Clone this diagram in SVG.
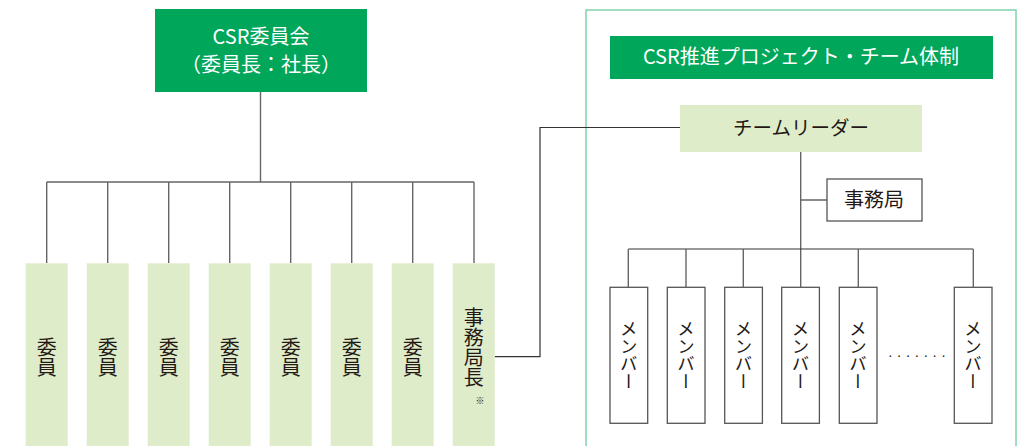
<svg xmlns="http://www.w3.org/2000/svg" width="1018" height="446" viewBox="0 0 1018 446">
<style>
text{font-family:"Noto Sans CJK JP","Noto Sans",sans-serif;fill:#231815}
.w{fill:#fff}
.g{fill:#00a65a}
.lg{fill:#deecc9}
.box{fill:#fff;stroke:#555;stroke-width:1.3}
.ln{fill:none;stroke:#666;stroke-width:1.4}
.ln2{fill:none;stroke:#333;stroke-width:1.2}
.v{writing-mode:vertical-rl;text-anchor:middle}
</style>
<rect x="0" y="0" width="1018" height="446" fill="#fff"/>
<g id="frame"><rect x="586" y="10" width="430" height="450" fill="none" stroke="#7fd3ab" stroke-width="1.5"/></g>
<g id="connectors">
<path class="ln" d="M260.5 92V182M46.7 182H474M46.7 182V263M107.7 182V263M168.7 182V263M229.7 182V263M290.7 182V263M351.7 182V263M412.7 182V263M474 182V263"/>
<path class="ln2" d="M494.7 356.7H540V127.5H680"/>
<path class="ln" d="M800.7 152V287M800.7 200H827"/>
<path class="ln2" d="M628.3 249H973.3"/>
<path class="ln" d="M628.3 249V287M686 249V287M743.3 249V287M858.3 249V287M973.3 249V287"/>
</g>
<g id="committee">
<rect class="g" x="155" y="9" width="212" height="83"/>
<text class="w" x="261" y="44" font-size="20" text-anchor="middle">CSR委員会</text>
<text class="w" x="261" y="72" font-size="20" text-anchor="middle">（委員長：社長）</text>
</g>
<g id="m1"><rect class="lg" x="25.7" y="263.3" width="42" height="190"/><text class="v" x="46.7" y="357" font-size="20">委員</text></g>
<g id="m2"><rect class="lg" x="86.7" y="263.3" width="42" height="190"/><text class="v" x="107.7" y="357" font-size="20">委員</text></g>
<g id="m3"><rect class="lg" x="147.7" y="263.3" width="42" height="190"/><text class="v" x="168.7" y="357" font-size="20">委員</text></g>
<g id="m4"><rect class="lg" x="208.7" y="263.3" width="42" height="190"/><text class="v" x="229.7" y="357" font-size="20">委員</text></g>
<g id="m5"><rect class="lg" x="269.7" y="263.3" width="42" height="190"/><text class="v" x="290.7" y="357" font-size="20">委員</text></g>
<g id="m6"><rect class="lg" x="330.7" y="263.3" width="42" height="190"/><text class="v" x="351.7" y="357" font-size="20">委員</text></g>
<g id="m7"><rect class="lg" x="391.7" y="263.3" width="42" height="190"/><text class="v" x="412.7" y="357" font-size="20">委員</text></g>
<g id="secgen"><rect class="lg" x="452.7" y="263.3" width="42" height="190"/><text class="v" x="473.7" y="347.5" font-size="20">事務局長</text><text x="480" y="404" font-size="9" text-anchor="middle">※</text></g>
<g id="title"><rect class="g" x="610" y="36" width="383" height="43"/><text class="w" x="801" y="64" font-size="20" text-anchor="middle">CSR推進プロジェクト・チーム体制</text></g>
<g id="leader"><rect class="lg" x="680" y="105" width="242" height="47"/><text x="801" y="135" font-size="19.5" text-anchor="middle">チームリーダー</text></g>
<g id="office"><rect class="box" x="827" y="179" width="95" height="42"/><text x="874" y="207" font-size="20" text-anchor="middle">事務局</text></g>
<g id="p1"><rect class="box" x="610" y="287.3" width="37.7" height="136"/><text class="v" x="628.8" y="355" font-size="17.5">メンバー</text></g>
<g id="p2"><rect class="box" x="667.3" y="287.3" width="37.7" height="136"/><text class="v" x="686.1" y="355" font-size="17.5">メンバー</text></g>
<g id="p3"><rect class="box" x="724.7" y="287.3" width="37.7" height="136"/><text class="v" x="743.5" y="355" font-size="17.5">メンバー</text></g>
<g id="p4"><rect class="box" x="781.7" y="287.3" width="37.7" height="136"/><text class="v" x="800.5" y="355" font-size="17.5">メンバー</text></g>
<g id="p5"><rect class="box" x="839.3" y="287.3" width="37.7" height="136"/><text class="v" x="858.1" y="355" font-size="17.5">メンバー</text></g>
<g id="p6"><rect class="box" x="954.3" y="287.3" width="37.7" height="136"/><text class="v" x="973.1" y="355" font-size="17.5">メンバー</text></g>
<text x="888" y="360" font-size="14" letter-spacing="4.2" style="font-family:'Liberation Sans',sans-serif">·······</text>
</svg>
